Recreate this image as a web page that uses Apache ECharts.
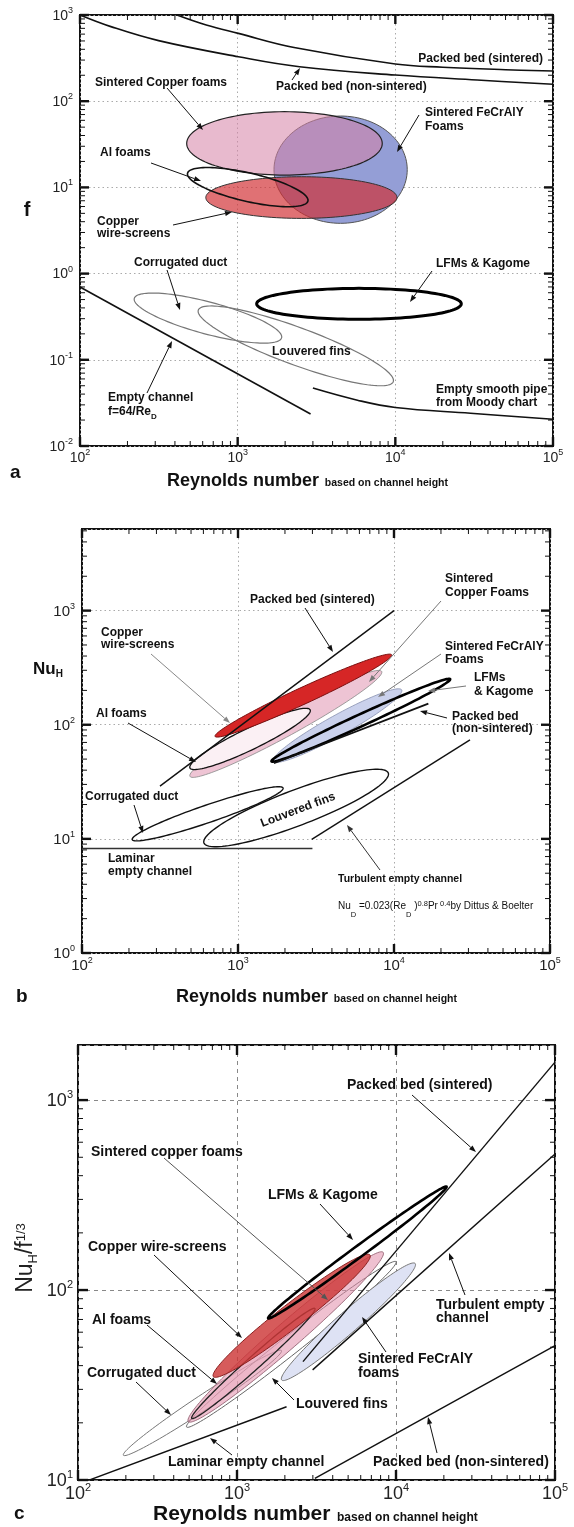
<!DOCTYPE html>
<html><head><meta charset="utf-8">
<script src="https://cdn.jsdelivr.net/npm/echarts@6/dist/echarts.min.js"></script>
<style>html,body{margin:0;padding:0;background:#fff}#c{width:574px;height:1527px}</style>
</head><body><div id="c"></div>
<script>
// ================= DATA =================
// Axis ranges (tick labels are the decades 10^n inside them)
const reRange = [1e2, 1e5];          // Reynolds number (all panels)
const fRange = [1e-2, 1e3];          // panel a: f
const nuRange = [1e0, 5.19e3];       // panel b: Nu_H
const nuf3Range = [1e1, 1.95e3];     // panel c: Nu_H/f^1/3

// ---- Panel a : friction factor f vs Re ----
const a_packedSintered    = [[412,1000],[632,766],[1010,612],[2280,420],[10000,270],[20000,248],[50000,232],[100000,224]];
const a_packedNonSintered = [[100,1000],[157,733],[315,504],[1010,328],[2470,251],[10000,201],[33000,176],[100000,157]];
const a_emptyChannel      = [[100,0.70],[2900,0.0235]];
const a_moodyPipe         = [[3000,0.047],[5750,0.034],[10000,0.028],[30000,0.024],[100000,0.0204]];
// regions: [ReMin, fMin, ReMax, fMax]
const a_feCrAlY        = [1700, 3.83, 11900, 67.3];
const a_sinteredCuFoam = [475, 13.9, 8260, 75.5];
const a_cuWireScreens  = [628, 4.37, 10240, 13.3];
const a_lfmKagome      = [1320, 0.295, 26200, 0.674];
// tilted regions: [Re1, f1, Re2, f2, widthRatio]
const a_alFoams        = [481, 14.6, 2790, 6.95, 0.23];
const a_corrugatedDuct = [221, 0.516, 1900, 0.180, 0.21];
const a_louveredFins   = [563, 0.378, 9700, 0.0557, 0.18];

// ---- Panel b : Nu_H vs Re ----
const b_packedSintered    = [[316,29],[10000,1000]];
const b_packedNonSintered = [[1700,46],[16600,153]];
const b_turbulent         = [[2970,9.9],[30700,73.8]];
const b_laminar           = [[100,8.23],[3000,8.23]];
// tilted regions: [Re1, Nu1, Re2, Nu2, widthRatio]
const b_sinteredCuFoam = [492, 35.3, 8340, 293, 0.11];
const b_alFoams        = [492, 41.8, 2900, 135, 0.16];
const b_cuWireScreens  = [713, 79, 9660, 410, 0.085];
const b_feCrAlY        = [1680, 47.8, 11200, 202, 0.14];
const b_lfmKagome      = [1640, 47.8, 22900, 251, 0.06];
const b_corrugatedDuct = [210, 9.86, 1945, 27.9, 0.11];
const b_louveredFins   = [605, 9.2, 9190, 37.8, 0.18];

// ---- Panel c : Nu_H/f^1/3 vs Re ----
const c_packedSintered    = [[2600,42],[100000,1585]];
const c_turbulent         = [[2990,38],[100000,520]];
const c_laminar           = [[100,9.5],[2050,24.3]];
const c_packedNonSintered = [[3090,10.2],[100000,51]];
const c_corrugatedDuct = [193, 13.5, 1905, 48, 0.08];
const c_louveredFins   = [482, 19, 10000, 141, 0.07];
const c_feCrAlY        = [1910, 33.6, 13200, 138, 0.12];
const c_sinteredCuFoam = [494, 20.3, 8300, 158, 0.1];
const c_alFoams        = [519, 21.1, 3090, 80, 0.08];
const c_cuWireScreens  = [710, 35, 6860, 153, 0.12];
const c_lfmKagome      = [1570, 71, 20800, 350, 0.05];

// ================= LAYOUT / STYLE =================
const FONT = '"Liberation Sans", Arial, Helvetica, sans-serif';
const grids = [
  {left:80, top:15, width:473, height:431},
  {left:82, top:529, width:468, height:424},
  {left:78, top:1045, width:477, height:435}
];
const yRanges = [fRange, nuRange, nuf3Range];
const tickFS = [14, 15, 18];

function axisRich(fs){
  const ss = Math.round(fs*0.62);
  return {
    b:{fontSize:fs, fontFamily:FONT, color:'#222', lineHeight:fs+2, verticalAlign:'bottom'},
    s:{fontSize:ss, fontFamily:FONT, color:'#222', lineHeight:ss+1, verticalAlign:'bottom', padding:[0,0,Math.round(fs*0.55),0]}
  };
}
function sci(v){ return '{b|10}{s|' + Math.round(Math.log10(v)) + '}'; }

function logTicks(r){
  const out=[];
  for(let e=Math.floor(Math.log10(r[0])); e<=Math.ceil(Math.log10(r[1])); e++){
    for(let m=1;m<=9;m++){ const v=m*Math.pow(10,e); if(v>=r[0]*0.999 && v<=r[1]*1.001) out.push({v, major:m===1}); }
  }
  return out;
}

function tickSeries(gi){
  const xr = reRange, yr = yRanges[gi];
  const big = gi===2 ? 10 : 9, small = 5;
  return {type:'custom', xAxisIndex:gi, yAxisIndex:gi, silent:true, z:10, clip:false, animation:false,
    data:[[xr[0], yr[0]]],
    renderItem(params, api){
      const cs = params.coordSys; const ch=[];
      const L=(x1,y1,x2,y2,w)=>ch.push({type:'line', shape:{x1,y1,x2,y2}, style:{stroke:'#111', lineWidth:w}});
      logTicks(xr).forEach(t=>{
        const x = api.coord([t.v, yr[0]])[0]; const len=t.major?big:small, w=t.major?2.4:1;
        L(x, cs.y+cs.height, x, cs.y+cs.height-len, w); L(x, cs.y, x, cs.y+len, w);
      });
      logTicks(yr).forEach(t=>{
        const y = api.coord([xr[0], t.v])[1]; const len=t.major?big:small, w=t.major?2.4:1;
        L(cs.x, y, cs.x+len, y, w); L(cs.x+cs.width, y, cs.x+cs.width-len, y, w);
      });
      return {type:'group', children:ch};
    }};
}

function ellipseSeries(gi, list){
  return {type:'custom', xAxisIndex:gi, yAxisIndex:gi, silent:true, z:3, clip:true, animation:false,
    data:list.map(e=>e.d.slice(0,4)),
    encode:{x:[0,2], y:[1,3]},
    renderItem(params, api){
      const e = list[params.dataIndex];
      const p1 = api.coord([api.value(0), api.value(1)]);
      const p2 = api.coord([api.value(2), api.value(3)]);
      const cx=(p1[0]+p2[0])/2, cy=(p1[1]+p2[1])/2; let a,b,th;
      if(e.box){ a=Math.abs(p2[0]-p1[0])/2; b=Math.abs(p2[1]-p1[1])/2; th=0; }
      else { const dx=p2[0]-p1[0], dy=p2[1]-p1[1]; a=Math.hypot(dx,dy)/2; b=a*e.d[4]; th=Math.atan2(dy,dx); }
      const pts=[]; const N=120;
      for(let k=0;k<N;k++){ const t=k/N*2*Math.PI; const u=a*Math.cos(t), v=b*Math.sin(t);
        pts.push([cx+u*Math.cos(th)-v*Math.sin(th), cy+u*Math.sin(th)+v*Math.cos(th)]); }
      return {type:'polygon', shape:{points:pts}, style:{fill:e.fill||'none', stroke:e.stroke||'none', lineWidth:e.lw||1}};
    }};
}

function lineSeries(gi, data, color, w, smooth){
  return {type:'line', xAxisIndex:gi, yAxisIndex:gi, data, symbol:'none', showSymbol:false, smooth:smooth||false,
    lineStyle:{color:color||'#111', width:w||1.6}, z:5, silent:true, animation:false, clip:true};
}

// ---- annotation helpers (pixel layout) ----
function txt(x,y,text,o){
  o=o||{}; const fs=o.fs||12, fw=o.fw||'bold';
  const st={text, fontSize:fs, fontWeight:fw, fontFamily:FONT, fill:o.color||'#111', align:o.align||'left', verticalAlign:'middle'};
  if(o.rich) st.rich=o.rich;
  return {type:'text', x, y, z:100, rotation:o.rot||0, silent:true, style:st};
}
function tok(fs,fw,extra){ return Object.assign({fontSize:fs, fontWeight:fw, fontFamily:FONT, fill:'#111', lineHeight:fs+2}, extra||{}); }
function arrow(x1,y1,x2,y2,color){
  color=color||'#111'; const ang=Math.atan2(y2-y1,x2-x1), L=7, W=2.6;
  const bx=x2-L*Math.cos(ang), by=y2-L*Math.sin(ang);
  return [
    {type:'line', z:100, silent:true, shape:{x1,y1,x2:bx,y2:by}, style:{stroke:color, lineWidth:1}},
    {type:'polygon', z:100, silent:true, shape:{points:[[x2,y2],[bx+W*Math.sin(ang),by-W*Math.cos(ang)],[bx-W*Math.sin(ang),by+W*Math.cos(ang)]]}, style:{fill:color}}
  ];
}

const subRich = fs => ({m:tok(fs,'bold',{verticalAlign:'top'}), s:tok(Math.round(fs*0.7),'bold',{verticalAlign:'top', padding:[Math.round(fs*0.55),0,0,0]})});
const reTitle = (x,y,big,sm) => txt(x,y,'{B|Reynolds number}{S|  based on channel height}',{rich:{
  B:tok(big,'bold',{lineHeight:big, verticalAlign:'bottom'}), S:tok(sm,'bold',{lineHeight:sm, verticalAlign:'bottom', padding:[0,0,1,0]})}});

const textsA = [
  txt(543,59,'Packed bed (sintered)',{align:'right'}),
  txt(276,87,'Packed bed (non-sintered)'),
  txt(95,83,'Sintered Copper foams'),
  txt(425,113,'Sintered FeCrAlY'), txt(425,127,'Foams'),
  txt(100,153,'Al foams'),
  txt(97,222,'Copper'), txt(97,234,'wire-screens'),
  txt(134,263,'Corrugated duct'),
  txt(436,264,'LFMs & Kagome'),
  txt(272,352,'Louvered fins'),
  txt(108,398,'Empty channel'), txt(108,413,'{m|f=64/Re}{s|D}',{rich:subRich(12)}),
  txt(436,390,'Empty smooth pipe'), txt(436,403,'from Moody chart'),
  txt(27,210,'f',{fs:20, align:'center'}),
  txt(10,473,'a',{fs:19}),
  reTitle(167,481,18,10.5)
];
const arrowsA = [[292,80,300,68],[167,88,203,130],[419,115,397,152],[151,163,201,181],[173,225,232,212],[167,270,180,310],[432,271,410,302],[147,393,172,341]];

const nuRich = {n:tok(17,'bold',{verticalAlign:'top'}), h:tok(10,'bold',{verticalAlign:'top', padding:[9,0,0,0]})};
const fmRich = {
  n:tok(10,'normal',{verticalAlign:'middle', lineHeight:12}),
  d:tok(7.5,'normal',{verticalAlign:'top', lineHeight:9, padding:[11,0,0,0]}),
  p:tok(7.5,'normal',{verticalAlign:'top', lineHeight:9, padding:[0,0,0,0]})
};
const textsB = [
  txt(250,600,'Packed bed (sintered)'),
  txt(445,579,'Sintered'), txt(445,593,'Copper Foams'),
  txt(445,647,'Sintered FeCrAlY'), txt(445,660,'Foams'),
  txt(474,678,'LFMs'), txt(474,692,'& Kagome'),
  txt(452,717,'Packed bed'), txt(452,729,'(non-sintered)'),
  txt(101,633,'Copper'), txt(101,645,'wire-screens'),
  txt(96,714,'Al foams'),
  txt(85,797,'Corrugated duct'),
  txt(298,810,'Louvered fins',{align:'center', rot:0.36}),
  txt(108,859,'Laminar'), txt(108,872,'empty channel'),
  txt(338,879,'Turbulent empty channel',{fs:10.5}),
  txt(338,906,'{n|Nu}{d|D}{n| =0.023(Re}{d|D}{n| )}{p|0.8}{n|Pr}{p| 0.4}{n|by Dittus & Boelter}',{rich:fmRich}),
  txt(33,670,'{n|Nu}{h|H}',{rich:nuRich}),
  txt(16,997,'b',{fs:19}),
  reTitle(176,997,18,10.5)
];
const arrowsB = [[305,608,333,652,'#111'],[441,601,369,682,'#777'],[441,654,378,697,'#777'],[466,686,428,691,'#777'],[447,718,420,711,'#111'],[151,654,230,723,'#888'],[128,723,196,762,'#111'],[134,805,143,833,'#111'],[380,870,347,825,'#333']];

const yRichC = {
  n:tok(23,'normal',{fill:'#222', verticalAlign:'top'}),
  h:tok(13,'normal',{fill:'#222', verticalAlign:'top', padding:[12,0,0,0]}),
  s:tok(13,'normal',{fill:'#222', verticalAlign:'top'})
};
const textsC = [
  txt(347,1085,'Packed bed (sintered)',{fs:14}),
  txt(91,1152,'Sintered copper foams',{fs:14}),
  txt(268,1195,'LFMs & Kagome',{fs:14}),
  txt(88,1247,'Copper wire-screens',{fs:14}),
  txt(92,1320,'Al foams',{fs:14}),
  txt(87,1373,'Corrugated duct',{fs:14}),
  txt(296,1404,'Louvered fins',{fs:14}),
  txt(168,1462,'Laminar empty channel',{fs:14}),
  txt(373,1462,'Packed bed (non-sintered)',{fs:14}),
  txt(358,1359,'Sintered FeCrAlY',{fs:14}), txt(358,1373,'foams',{fs:14}),
  txt(436,1305,'Turbulent empty',{fs:14}), txt(436,1318,'channel',{fs:14}),
  txt(27,1258,'{n|Nu}{h|H}{n|/f}{s|1/3}',{rich:yRichC, align:'center', rot:Math.PI/2}),
  txt(14,1514,'c',{fs:19}),
  reTitle(153,1514,21,12)
];
const arrowsC = [[412,1095,476,1152],[164,1158,328,1300,'#555'],[320,1204,353,1240],[154,1255,242,1338],[147,1325,217,1384],[136,1382,171,1415],[294,1400,272,1378],[232,1455,210,1438],[437,1453,428,1417],[386,1352,362,1317],[465,1295,449,1253]];

const graphicEls = [].concat(textsA, textsB, textsC);
[].concat(arrowsA, arrowsB, arrowsC).forEach(a=>{ graphicEls.push(...arrow(a[0],a[1],a[2],a[3],a[4])); });

// ---- region lists per panel ----
const regionsA = [
  {d:a_feCrAlY, box:true, fill:'rgb(148,158,214)', stroke:'#555', lw:1},
  {d:a_sinteredCuFoam, box:true, fill:'rgba(214,130,165,0.55)', stroke:'#222', lw:1.2},
  {d:a_cuWireScreens, box:true, fill:'rgba(210,45,50,0.68)', stroke:'#333', lw:1},
  {d:a_alFoams, stroke:'#111', lw:1.6},
  {d:a_lfmKagome, box:true, stroke:'#000', lw:3},
  {d:a_corrugatedDuct, stroke:'#777', lw:1.2},
  {d:a_louveredFins, stroke:'#777', lw:1.2}
];
const regionsB = [
  {d:b_corrugatedDuct, stroke:'#111', lw:1.4},
  {d:b_louveredFins, stroke:'#111', lw:1.4},
  {d:b_sinteredCuFoam, fill:'rgb(238,196,212)', stroke:'#888', lw:0.8},
  {d:b_alFoams, fill:'rgb(251,240,244)', stroke:'#111', lw:1.3},
  {d:b_feCrAlY, fill:'rgb(202,209,236)', stroke:'#8890b0', lw:0.8},
  {d:b_lfmKagome, stroke:'#000', lw:2.6},
  {d:b_cuWireScreens, fill:'rgb(214,38,38)', stroke:'#7a1010', lw:1}
];
const regionsC = [
  {d:c_corrugatedDuct, fill:'rgba(255,255,255,0)', stroke:'#777', lw:1},
  {d:c_louveredFins, stroke:'#666', lw:1},
  {d:c_feCrAlY, fill:'rgb(222,226,244)', stroke:'#777', lw:1},
  {d:c_sinteredCuFoam, fill:'rgba(225,140,170,0.55)', stroke:'#a07080', lw:1},
  {d:c_alFoams, fill:'rgba(235,170,190,0.45)', stroke:'#222', lw:1.3},
  {d:c_cuWireScreens, fill:'rgba(205,55,55,0.82)', stroke:'#8a2020', lw:1},
  {d:c_lfmKagome, stroke:'#000', lw:2.6}
];

const option = {
  animation:false,
  backgroundColor:'#fff',
  grid: grids.map(g=>Object.assign({show:true, borderColor:'#111', borderWidth:2, backgroundColor:'transparent', containLabel:false, outerBoundsMode:'none'}, g)),
  xAxis: grids.map((g,gi)=>({type:'log', logBase:10, gridIndex:gi, min:reRange[0], max:reRange[1],
    axisLine:{show:false}, axisTick:{show:false},
    splitLine:{show:true, lineStyle: gi===2?{type:[4,4],color:'#888',width:1}:{type:[1.5,3],color:'#aaa',width:1}},
    axisLabel:{margin:3, formatter:sci, rich:axisRich(tickFS[gi]), showMinLabel:true, showMaxLabel:true}})),
  yAxis: grids.map((g,gi)=>({type:'log', logBase:10, gridIndex:gi, min:yRanges[gi][0], max:yRanges[gi][1],
    axisLine:{show:false}, axisTick:{show:false},
    splitLine:{show:true, lineStyle: gi===2?{type:[4,4],color:'#888',width:1}:{type:[1.5,3],color:'#aaa',width:1}},
    axisLabel:{margin:gi===2?5:7, formatter:sci, rich:axisRich(tickFS[gi]), showMinLabel:true, showMaxLabel:gi===0}})),
  series: [
    ellipseSeries(0, regionsA),
    lineSeries(0, a_packedSintered, '#111', 1.6, 0.4),
    lineSeries(0, a_packedNonSintered, '#111', 1.6, 0.4),
    lineSeries(0, a_emptyChannel, '#111', 1.6),
    lineSeries(0, a_moodyPipe, '#111', 1.6, 0.4),
    tickSeries(0),
    ellipseSeries(1, regionsB),
    lineSeries(1, b_packedSintered, '#111', 1.4),
    lineSeries(1, b_packedNonSintered, '#111', 1.8),
    lineSeries(1, b_turbulent, '#111', 1.4),
    lineSeries(1, b_laminar, '#333', 1.4),
    tickSeries(1),
    ellipseSeries(2, regionsC),
    lineSeries(2, c_packedSintered, '#111', 1.4),
    lineSeries(2, c_turbulent, '#111', 1.4),
    lineSeries(2, c_laminar, '#111', 1.4),
    lineSeries(2, c_packedNonSintered, '#111', 1.4),
    tickSeries(2)
  ],
  graphic:{elements:graphicEls}
};
const chart = echarts.init(document.getElementById('c'), null, {renderer:'canvas', width:574, height:1527});
chart.setOption(option);
</script></body></html>
